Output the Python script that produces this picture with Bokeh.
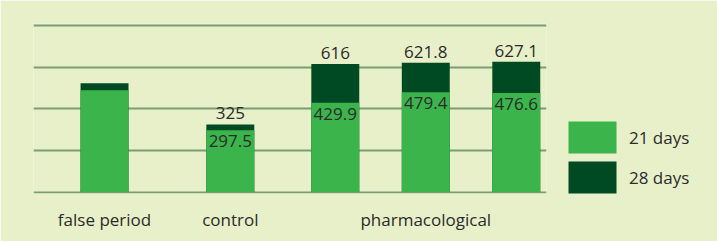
from bokeh.plotting import figure
from bokeh.models import ColumnDataSource, Range1d, FixedTicker, Legend, LegendItem
from bokeh.core.properties import value
from bokeh.embed import file_html
from bokeh.resources import INLINE
import numpy as np

# ---- data ----
groups = ["false period", "control", "pharmacological"]
bar_group = ["false period", "control", "pharmacological", "pharmacological", "pharmacological"]
days21 = [490.0, 297.5, 429.9, 479.4, 476.6]
days28 = [523.0, 325.0, 616.0, 621.8, 627.1]
label21 = ["", "297.5", "429.9", "479.4", "476.6"]
label28 = ["", "325", "616", "621.8", "627.1"]
series_names = ["21 days", "28 days"]

# ---- layout (bar slots; extra gap before each group) ----
group_gap = {"false period": 0.0, "control": 0.39, "pharmacological": 0.16}
xs = []
pos = -1.0
prev = None
for g in bar_group:
    pos += 1.0
    if prev is not None and g != prev:
        pos += group_gap[g]
    xs.append(round(pos, 3))
    prev = g

group_centers = []
for g in groups:
    gx = [x for x, bg in zip(xs, bar_group) if bg == g]
    group_centers.append(round(float(np.mean(gx)), 3))

BG = "#e8f0c9"
GRID = "#7a9e72"
LIGHT = "#3bb44b"
DARK = "#004a23"
TXT = "#2b2b2b"
FONT = "Open Sans"

src = ColumnDataSource(dict(x=xs, d21=days21, d28=days28, l21=label21, l28=label28))

p = figure(width=717, height=241, output_backend="svg", toolbar_location=None,
           x_range=Range1d(-0.785, 4.884), y_range=Range1d(-7.2, 810.6),
           min_border_left=33, min_border_right=171, min_border_top=23, min_border_bottom=48)
p.frame_width = 513
p.frame_height = 170
p.background_fill_color = BG
p.border_fill_color = BG
p.outline_line_color = None

r28 = p.vbar(x="x", top="d28", bottom=0, width=0.53, source=src, fill_color=DARK, line_color=None)
r21 = p.vbar(x="x", top="d21", bottom=0, width=0.53, source=src, fill_color=LIGHT, line_color=None)

p.text(x="x", y="d28", text="l28", source=src, text_align="center", text_baseline="bottom",
       y_offset=-5, text_font=value(FONT), text_font_size="17px", text_color=TXT)
p.text(x="x", y="d21", text="l21", source=src, text_align="center", text_baseline="top",
       y_offset=5, text_font=value(FONT), text_font_size="17px", text_color=TXT)

# grid
p.yaxis.visible = False
p.ygrid.ticker = FixedTicker(ticks=[0, 200, 400, 600, 800])
p.ygrid.grid_line_color = GRID
p.ygrid.grid_line_width = 2
p.xgrid.visible = False

# x axis with group labels
ax = p.xaxis[0]
ax.ticker = FixedTicker(ticks=group_centers)
ax.major_label_overrides = {c: g for c, g in zip(group_centers, groups)}
ax.axis_line_color = None
ax.major_tick_line_color = None
ax.minor_tick_line_color = None
ax.major_label_text_font = FONT
ax.major_label_text_font_size = "17px"
ax.major_label_text_color = TXT
ax.major_label_standoff = 8

legend = Legend(items=[LegendItem(label=series_names[0], renderers=[r21]),
                       LegendItem(label=series_names[1], renderers=[r28])],
                location=(16, -4), orientation="vertical")
legend.glyph_width = 60
legend.glyph_height = 40
legend.spacing = 0
legend.padding = 0
legend.margin = 0
legend.label_standoff = 7
legend.label_text_font = FONT
legend.label_text_font_size = "17px"
legend.label_text_color = TXT
legend.background_fill_alpha = 0
legend.border_line_alpha = 0
p.add_layout(legend, "right")

open("out.html", "w").write(file_html(p, INLINE))
